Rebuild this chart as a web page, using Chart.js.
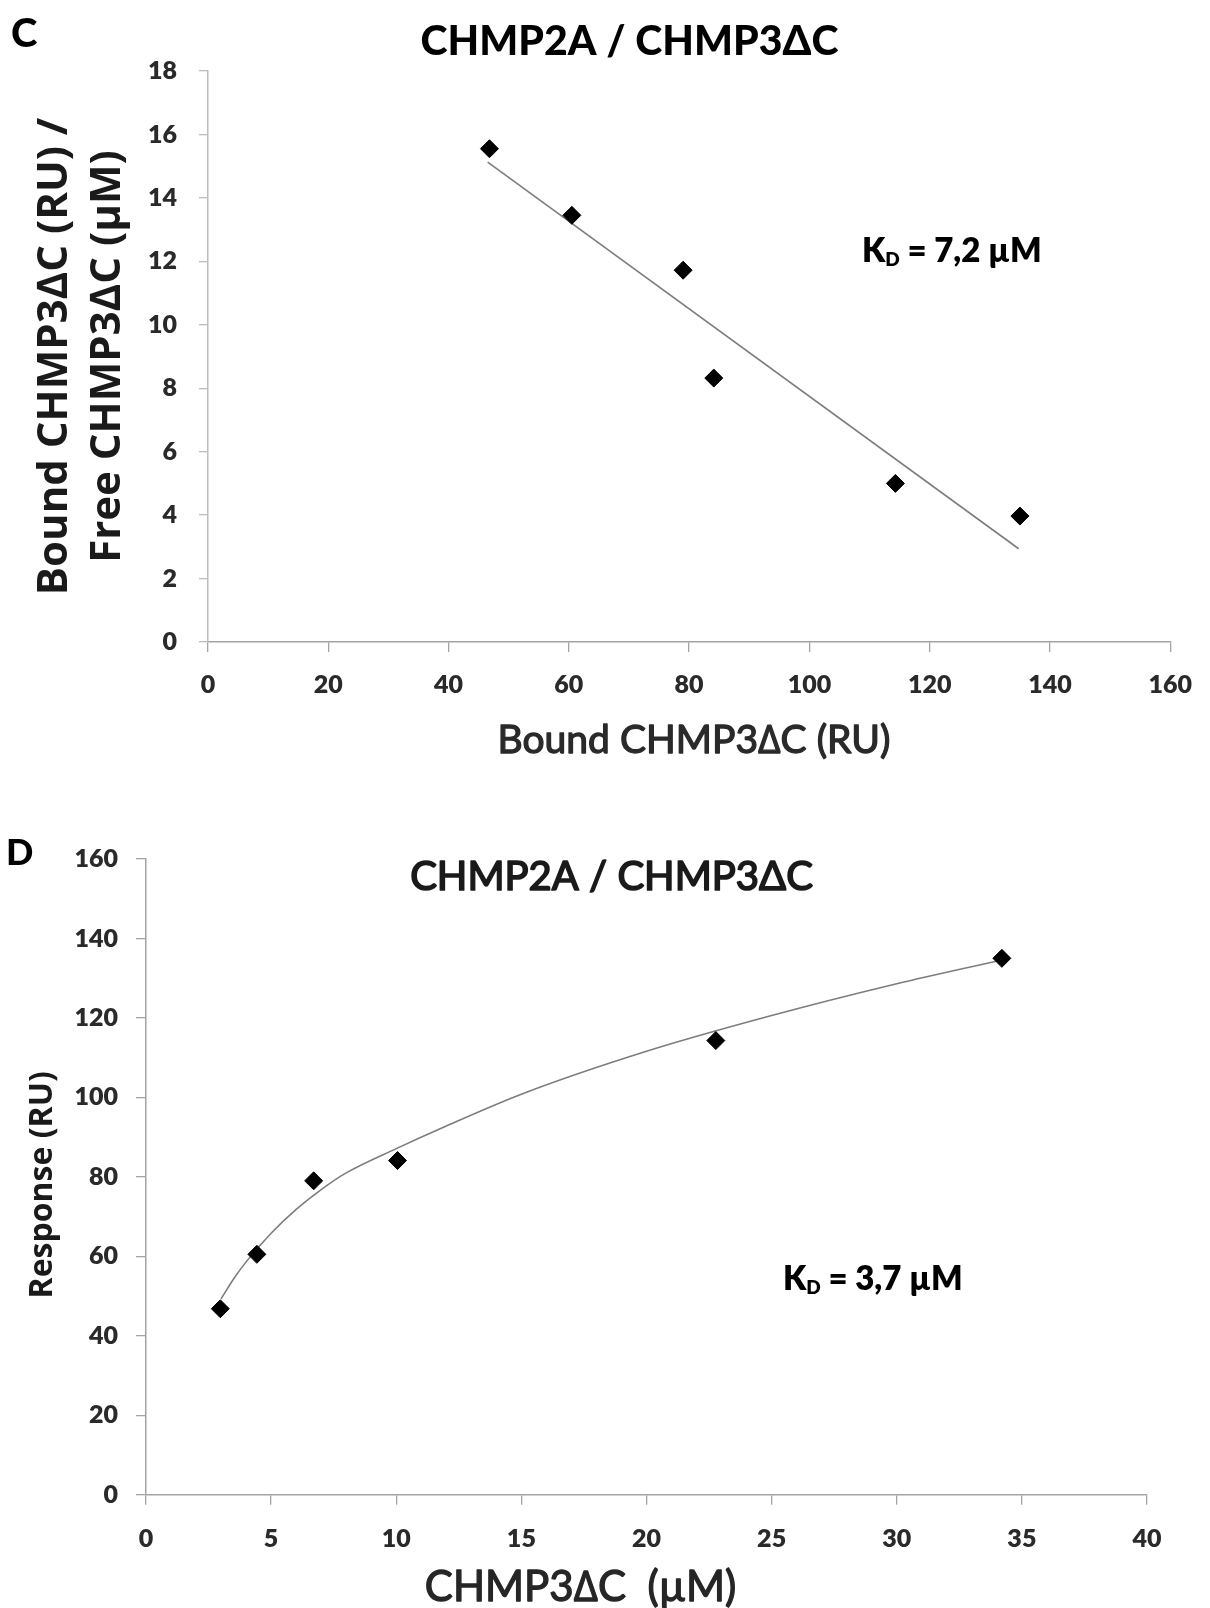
<!DOCTYPE html>
<html>
<head>
<meta charset="utf-8">
<script src="https://cdn.jsdelivr.net/npm/chart.js@4/dist/chart.umd.min.js"></script>
<style>
  html, body { margin: 0; padding: 0; background: #ffffff; }
  body { width: 1210px; height: 1608px; position: relative; overflow: hidden; }
  .panel { position: absolute; left: 0; }
  canvas { display: block; }
</style>
</head>
<body>
<div class="panel" style="top:0;width:1210px;height:790px"><canvas id="chartC" width="1210" height="790"></canvas></div>
<div class="panel" style="top:790px;width:1210px;height:818px"><canvas id="chartD" width="1210" height="818"></canvas></div>
<script>
// ---------- data ----------
// Panel C: Scatchard plot
const boundRU = [46.8, 60.5, 79.0, 84.1, 114.3, 135.0];          // Bound CHMP3ΔC (RU)
const boundOverFree = [15.55, 13.45, 11.72, 8.32, 5.0, 3.97];     // Bound / Free
const scatchardFitX = [46.5, 134.8];
const scatchardFitY = [15.13, 2.94];
const xTicksC = [0, 20, 40, 60, 80, 100, 120, 140, 160];
const yTicksC = [0, 2, 4, 6, 8, 10, 12, 14, 16, 18];

// Panel D: saturation binding
const freeUM = [2.97, 4.43, 6.70, 10.05, 22.77, 34.2];            // CHMP3ΔC (µM)
const responseRU = boundRU;                                       // Response (RU)
const bindingFitX = [3.0, 3.5, 4.0, 5.0, 6.0, 7.0, 8.0, 10.0, 12.0, 15.0, 20.0, 25.0, 30.0, 34.2];
const bindingFitY = [49.3, 54.3, 58.6, 65.8, 71.8, 76.8, 81.0, 87.1, 92.8, 100.8, 111.6, 120.6, 128.6, 134.6];
const xTicksD = [0, 5, 10, 15, 20, 25, 30, 35, 40];
const yTicksD = [0, 20, 40, 60, 80, 100, 120, 140, 160];

const titleText = 'CHMP2A / CHMP3ΔC';
const kdC = '7,2 µM';
const kdD = '3,7 µM';

// ---------- helpers ----------
const toPoints = (xs, ys) => xs.map((x, i) => ({ x: x, y: ys[i] }));

const textPlugin = {
  id: 'panelText',
  afterDraw(chart, args, opts) {
    const ctx = chart.ctx;
    (opts.items || []).forEach(item => {
      ctx.save();
      const color = item.color || '#000000';
      ctx.fillStyle = color;
      ctx.strokeStyle = color;
      ctx.lineJoin = 'round';
      ctx.textBaseline = 'alphabetic';
      ctx.textAlign = 'left';
      const widths = item.runs.map(r => { ctx.font = r.font; return ctx.measureText(r.text).width; });
      const total = widths.reduce((a, b) => a + b, 0);
      let x = item.align === 'center' ? item.x - total / 2 : item.x;
      item.runs.forEach((r, i) => {
        ctx.font = r.font;
        const y = item.y + (r.dy || 0);
        ctx.fillText(r.text, x, y);
        if (item.stroke) { ctx.lineWidth = item.stroke; ctx.strokeText(r.text, x, y); }
        x += widths[i];
      });
      ctx.restore();
    });
  }
};

const LATO = 'Lato, "Open Sans", sans-serif';
const OPEN = '"Open Sans", "DejaVu Sans", sans-serif';
const AXIS = '#a4a4a4';
const TICK = '#2a2a2a';

function axisCfg(o) {
  return {
    type: 'linear',
    min: o.min, max: o.max,
    afterBuildTicks: (scale) => { scale.ticks = o.ticks.map(v => ({ value: v })); },
    afterFit: o.afterFit,
    grid: { display: true, drawOnChartArea: false, drawTicks: true, tickLength: o.tickLength, color: o.color, lineWidth: 1.3 },
    border: { display: true, color: o.color, width: 1.5 },
    ticks: { color: TICK, padding: o.padding, font: { family: LATO, size: 25, weight: '800' }, maxRotation: 0, autoSkip: false },
    title: o.title
  };
}

function makeCharts() {
  // ---------- Chart C ----------
  new Chart(document.getElementById('chartC'), {
    type: 'scatter',
    data: {
      datasets: [
        {
          label: 'Linear fit',
          data: toPoints(scatchardFitX, scatchardFitY),
          showLine: true, pointRadius: 0, borderColor: '#7d7d7d', borderWidth: 1.6, fill: false, order: 2
        },
        {
          label: 'Bound/Free',
          data: toPoints(boundRU, boundOverFree),
          pointStyle: 'rectRot', pointRadius: 9, borderWidth: 1,
          backgroundColor: '#000000', borderColor: '#000000', order: 1
        }
      ]
    },
    options: {
      responsive: false, animation: false, devicePixelRatio: 1,
      layout: { padding: { top: 71, right: 28, left: 0, bottom: 0 } },
      plugins: {
        legend: { display: false }, tooltip: { enabled: false },
        panelText: {
          items: [
            { x: 11, y: 47, runs: [{ text: 'C', font: '900 40px ' + LATO }] },
            { x: 629.5, y: 55, align: 'center', runs: [{ text: titleText, font: '900 41px ' + LATO }] },
            { x: 862, y: 262, runs: [
              { text: 'K', font: '800 33px ' + LATO },
              { text: 'D', font: '800 19px ' + LATO, dy: 4 },
              { text: ' = ' + kdC, font: '800 33px ' + LATO }
            ] },
            { x: 694, y: 753, align: 'center', color: '#2a2a2a', stroke: 1.3,
              runs: [{ text: 'Bound CHMP3∆C (RU)', font: '39px ' + LATO }] }
          ]
        }
      },
      scales: {
        x: axisCfg({
          min: 0, max: 160, ticks: xTicksC, tickLength: 10, padding: 18, color: AXIS,
          afterFit: (s) => { s.height = 148; },
          title: { display: false }
        }),
        y: axisCfg({
          min: 0, max: 18, ticks: yTicksC, tickLength: 9, padding: 22, color: '#bcbcbc',
          afterFit: (s) => { s.width = 208; },
          title: { display: true, text: ['Bound CHMP3∆C (RU) /', 'Free CHMP3∆C (µM)'], color: '#1a1a1a',
                   font: { family: OPEN, size: 42, weight: 'bold', lineHeight: 1.26 }, padding: { top: 29, bottom: 0 } }
        })
      }
    },
    plugins: [textPlugin]
  });

  // ---------- Chart D ----------
  new Chart(document.getElementById('chartD'), {
    type: 'scatter',
    data: {
      datasets: [
        {
          label: 'Fit',
          data: toPoints(bindingFitX, bindingFitY),
          showLine: true, pointRadius: 0, borderColor: '#7d7d7d', borderWidth: 1.6, fill: false,
          cubicInterpolationMode: 'monotone', order: 2
        },
        {
          label: 'Response',
          data: toPoints(freeUM, responseRU),
          pointStyle: 'rectRot', pointRadius: 9, borderWidth: 1,
          backgroundColor: '#000000', borderColor: '#000000', order: 1
        }
      ]
    },
    options: {
      responsive: false, animation: false, devicePixelRatio: 1,
      layout: { padding: { top: 69, right: 63, left: 0, bottom: 0 } },
      plugins: {
        legend: { display: false }, tooltip: { enabled: false },
        panelText: {
          items: [
            { x: 6, y: 75, runs: [{ text: 'D', font: '900 36px ' + LATO }] },
            { x: 611.5, y: 100, align: 'center', color: '#1a1a1a', stroke: 1.7,
              runs: [{ text: titleText, font: '40px ' + LATO }] },
            { x: 783, y: 500, runs: [
              { text: 'K', font: '800 33px ' + LATO },
              { text: 'D', font: '800 19px ' + LATO, dy: 4 },
              { text: ' = ' + kdD, font: '800 33px ' + LATO }
            ] },
            { x: 580.5, y: 811, align: 'center', color: '#262626', stroke: 1.3,
              runs: [{ text: 'CHMP3∆C  (µM)', font: '42px ' + LATO }] }
          ]
        }
      },
      scales: {
        x: axisCfg({
          min: 0, max: 40, ticks: xTicksD, tickLength: 10, padding: 19, color: AXIS,
          afterFit: (s) => { s.height = 113.3; },
          title: { display: false }
        }),
        y: axisCfg({
          min: 0, max: 160, ticks: yTicksD, tickLength: 10, padding: 18, color: AXIS,
          afterFit: (s) => { s.width = 146; },
          title: { display: true, text: 'Response (RU)\u2002', color: '#1a1a1a',
                   font: { family: OPEN, size: 32, weight: 'bold', lineHeight: 1.2 }, padding: { top: 24, bottom: 0 } }
        })
      }
    },
    plugins: [textPlugin]
  });
}

const fontLoads = [
  '800 25px Lato', '900 40px Lato', '40px Lato', '800 33px Lato',
  'bold 42px "Open Sans"', 'bold 32px "Open Sans"'
].map(f => document.fonts.load(f).catch(() => null));
Promise.all(fontLoads).then(makeCharts, makeCharts);
</script>
</body>
</html>
